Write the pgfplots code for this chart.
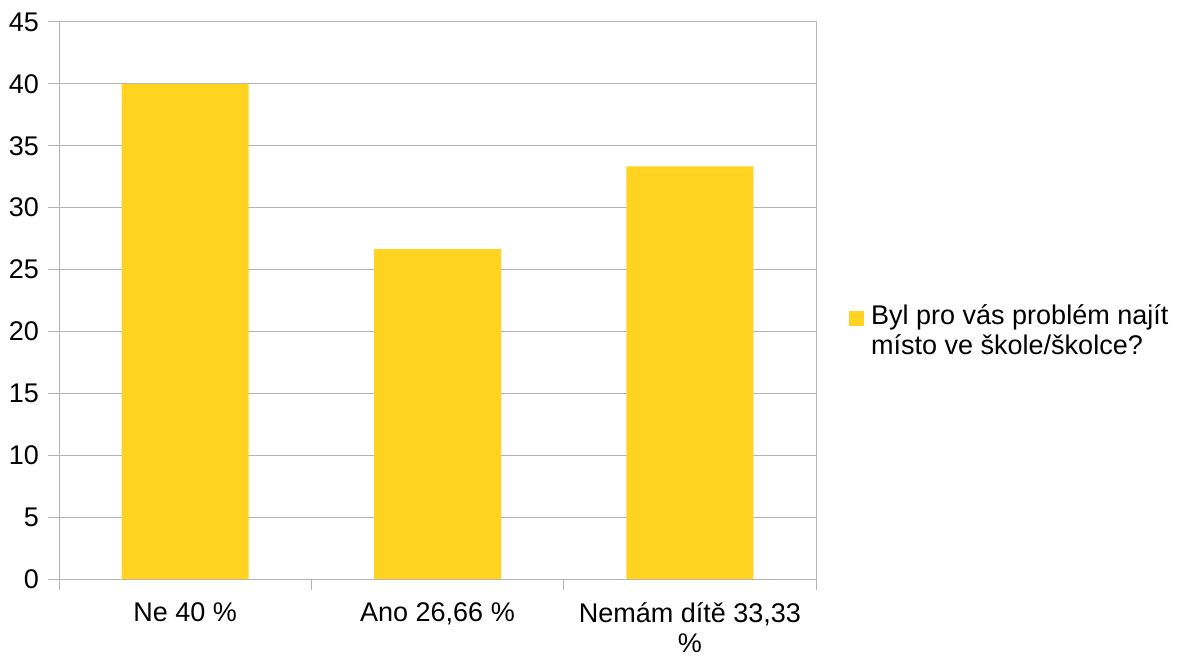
\documentclass[border=0pt]{standalone}
\usepackage{pgfplots}
\pgfplotsset{compat=1.18}
\usepackage{fontspec}
\setmainfont{Liberation Sans}
\definecolor{baryellow}{HTML}{FFD320}
\definecolor{gridgray}{HTML}{B3B3B3}
\begin{document}
\fontsize{27}{31}\selectfont
\begin{tikzpicture}
\useasboundingbox (0,0) rectangle (1186pt,657pt);
\begin{axis}[
  at={(59pt,78pt)}, anchor=south west,
  scale only axis, width=757pt, height=557pt,
  xmin=-0.5, xmax=2.5, ymin=0, ymax=45,
  ytick={0,5,...,45},
  xtick={0,1,2},
  xticklabels={Ne 40 \%, {Ano 26,66 \%}, {Nemám dítě 33,33\\\%}},
  minor xtick={-0.5,0.5,1.5,2.5},
  xtick style={draw=none},
  minor x tick style={draw=gridgray, line width=1pt},
  ytick style={draw=gridgray, line width=1pt},
  tick align=outside, tick pos=left,
  major tick length=11pt, minor tick length=11pt,
  ymajorgrids, grid style={gridgray, line width=1pt},
  axis line style={gridgray, line width=1pt},
  tick label style={font=\fontsize{27}{30}\selectfont, text=black},
  xticklabel style={align=center, yshift=-3pt},
  /pgf/number format/assume math mode=true,
  ybar, bar width=127pt,
  legend style={draw=none, fill=none, at={(1,0.5)}, anchor=west, xshift=30pt, yshift=-31pt,
    font=\fontsize{27}{30}\selectfont, cells={anchor=west, align=left},
    /tikz/every odd column/.append style={column sep=5pt}},
  legend image code/.code={\fill[#1] (0pt,6pt) rectangle (15pt,21pt);},
]
\addplot[fill=baryellow, draw=none] coordinates {(0,40) (1,26.66) (2,33.33)};
\addlegendentry{Byl pro vás problém najít\\místo ve škole/školce?}
\end{axis}
\end{tikzpicture}
\end{document}
